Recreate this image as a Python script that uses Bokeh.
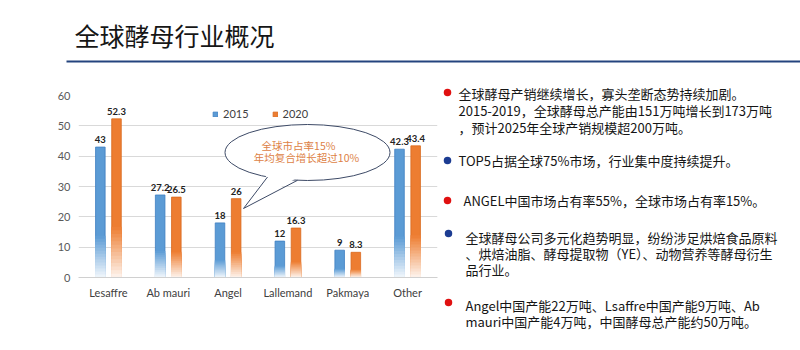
from bokeh.plotting import figure
from bokeh.models import ColumnDataSource, Range1d, FactorRange, FixedTicker, Legend, LegendItem
from bokeh.transform import dodge
from bokeh.layouts import column, row
from bokeh.core.properties import value
from bokeh.embed import file_html
from bokeh.resources import INLINE

# ---------------- data ----------------
title_text = "全球酵母行业概况"
categories = ["Lesaffre", "Ab mauri", "Angel", "Lallemand", "Pakmaya", "Other"]
series_names = ["2015", "2020"]
values_2015 = [43, 27.2, 18, 12, 9, 42.3]
values_2020 = [52.3, 26.5, 26, 16.3, 8.3, 43.4]
y_ticks = [0, 10, 20, 30, 40, 50, 60]
callout_lines = ["全球市占率15%", "年均复合增长超过10%"]

bullet_1 = ["全球酵母产销继续增长，寡头垄断态势持续加剧。",
            "2015-2019，全球酵母总产能由151万吨增长到173万吨",
            "，预计2025年全球产销规模超200万吨。"]
bullet_2 = ["TOP5占据全球75%市场，行业集中度持续提升。"]
bullet_3 = ["ANGEL中国市场占有率55%，全球市场占有率15%。"]
bullet_4 = ["全球酵母公司多元化趋势明显，纷纷涉足烘焙食品原料",
            "、烘焙油脂、酵母提取物（YE）、动物营养等酵母衍生",
            "品行业。"]
bullet_5 = ["Angel中国产能22万吨、Lsaffre中国产能9万吨、Ab",
            "mauri中国产能4万吨，中国酵母总产能约50万吨。"]
bullets = [bullet_1, bullet_2, bullet_3, bullet_4, bullet_5]

# ---------------- styles / layout ----------------
BLUE = "#5b9bd5"
BLUE_EDGE = "#3f7fc2"
ORANGE = "#ed7d31"
ORANGE_EDGE = "#d96a1e"
RED_DOT = "#e01010"
NAVY_DOT = "#1c3c92"
CJK = "Noto Sans CJK SC"
LAT = "Lato"

TOP_H = 70
CH_W, CH_H = 440, 280
BORDER_L, BORDER_R, BORDER_T, BORDER_B = 78, 3, 25, 73
FRAME_W = CH_W - BORDER_L - BORDER_R
FRAME_H = CH_H - BORDER_T - BORDER_B
Y_MAX = 60
TX_W = 800 - CH_W


def blend(hex_color, t):
    """mix hex_color with white; t=0 -> color, t=1 -> white"""
    h = hex_color.lstrip("#")
    r, g, b = (int(h[i:i + 2], 16) for i in (0, 2, 4))
    r = round(r + (255 - r) * t)
    g = round(g + (255 - g) * t)
    b = round(b + (255 - b) * t)
    return "#%02x%02x%02x" % (r, g, b)


def fmt(v):
    return f"{v:g}"


# page pixel -> chart data units (for the callout annotation)
def ax(page_x):
    return (page_x - BORDER_L) * len(categories) / FRAME_W


def ay(page_y):
    return (TOP_H + BORDER_T + FRAME_H - page_y) * Y_MAX / FRAME_H


# ---------------- title figure ----------------
tfig = figure(width=800, height=TOP_H, x_range=Range1d(0, 800), y_range=Range1d(TOP_H, 0),
              output_backend="svg", toolbar_location=None, min_border=0,
              x_axis_location=None, y_axis_location=None)
tfig.grid.visible = False
tfig.outline_line_color = None
tfig.text(x=[74], y=[34], text=[title_text], text_font=value(CJK), text_font_size="25px",
          text_color="#161616", text_baseline="middle", text_align="left")
tfig.line(x=[66, 800], y=[61, 61], line_color="#24447e", line_width=2)

# ---------------- chart figure ----------------
p = figure(width=CH_W, height=CH_H, x_range=FactorRange(factors=categories, range_padding=0),
           y_range=Range1d(0, Y_MAX), output_backend="svg", toolbar_location=None,
           min_border_left=BORDER_L, min_border_right=BORDER_R,
           min_border_top=BORDER_T, min_border_bottom=BORDER_B)
p.outline_line_color = None
p.xgrid.grid_line_color = None
p.ygrid.ticker = FixedTicker(ticks=y_ticks)
p.ygrid.grid_line_color = "#d9d9d9"
p.yaxis.ticker = FixedTicker(ticks=y_ticks)
p.yaxis.axis_line_color = None
p.yaxis.major_tick_line_color = None
p.yaxis.minor_tick_line_color = None
p.yaxis.major_tick_out = 0
p.yaxis.major_label_standoff = 8
p.yaxis.major_label_text_font = LAT
p.yaxis.major_label_text_font_size = "11px"
p.yaxis.major_label_text_color = "#595959"
p.xaxis.axis_line_color = "#d0d0d0"
p.xaxis.major_tick_line_color = None
p.xaxis.major_tick_out = 0
p.xaxis.major_label_standoff = 8
p.xaxis.major_label_text_font = LAT
p.xaxis.major_label_text_font_size = "11px"
p.xaxis.major_label_text_color = "#404040"

OFF = 0.135
BW = 0.16
src = ColumnDataSource(dict(cat=categories, v15=values_2015, v20=values_2020,
                            l15=[fmt(v) for v in values_2015], l20=[fmt(v) for v in values_2020]))

r15 = p.vbar(x=dodge("cat", -OFF, range=p.x_range), top="v15", bottom=0, width=BW, source=src,
             fill_color=BLUE, line_color=BLUE_EDGE, line_width=0.8)
r20 = p.vbar(x=dodge("cat", OFF, range=p.x_range), top="v20", bottom=0, width=BW, source=src,
             fill_color=ORANGE, line_color=ORANGE_EDGE, line_width=0.8)

# bottom fade of each bar (Excel-like gradient fill)
N = 14
FADE = 0.32
for vals, base, off in ((values_2015, BLUE, -OFF), (values_2020, ORANGE, OFF)):
    cats, tops, cols = [], [], []
    for k in range(N):
        for c, v in zip(categories, vals):
            cats.append(c)
            tops.append(v * FADE * (1 - k / N))
            cols.append(blend(base, 0.92 * (k + 0.5) / N))
    fsrc = ColumnDataSource(dict(cat=cats, top=tops, col=cols))
    p.vbar(x=dodge("cat", off, range=p.x_range), top="top", bottom=0, width=BW + 0.012,
           source=fsrc, fill_color="col", line_color=None)

# data labels
for col, lab, off in (("v15", "l15", -OFF), ("v20", "l20", OFF)):
    p.text(x=dodge("cat", off, range=p.x_range), y=col, text=lab, source=src, y_offset=-4,
           text_align="center", text_baseline="bottom", text_font=value(LAT),
           text_font_size="9.5px", text_font_style="bold", text_color="#222222")

# legend
legend = Legend(items=[LegendItem(label=series_names[0], renderers=[r15]),
                       LegendItem(label=series_names[1], renderers=[r20])],
                orientation="horizontal", location=(134, 157), glyph_width=6, glyph_height=6,
                label_standoff=5, spacing=23, padding=0, margin=0, border_line_color=None,
                background_fill_alpha=0, label_text_font=LAT, label_text_font_size="11px",
                label_text_color="#404040", label_height=10)
p.add_layout(legend)

# callout bubble
CALL_LINE = "#3d4a66"
p.ellipse(x=ax(307), y=ay(152), width=165, height=56, width_units="screen", height_units="screen",
          fill_color="white", line_color=CALL_LINE, line_width=1)
tail_x = [ax(267), ax(243), ax(297)]
tail_y = [ay(176.5), ay(208), ay(179.8)]
p.patch(x=tail_x, y=[tail_y[0] + 0.9, tail_y[1], tail_y[2] + 0.9], fill_color="white", line_color=None)
p.line(x=tail_x, y=tail_y, line_color=CALL_LINE, line_width=1)
p.text(x=[ax(298), ax(306)], y=[ay(145), ay(157)], text=callout_lines, text_align="center",
       text_baseline="middle", text_font=value(CJK), text_font_size="10.5px", text_color="#dd7f45")

# ---------------- bullet text figure (page coords shifted by chart origin) ----------------
bfig = figure(width=TX_W, height=CH_H, x_range=Range1d(CH_W, 800), y_range=Range1d(TOP_H + CH_H, TOP_H),
              output_backend="svg", toolbar_location=None, min_border=0,
              x_axis_location=None, y_axis_location=None)
bfig.grid.visible = False
bfig.outline_line_color = None

dot_colors = [RED_DOT, NAVY_DOT, RED_DOT, NAVY_DOT, RED_DOT]
dot_page_y = [92, 160, 200, 233, 302]
text_page_x = [458, 458, 463, 465, 465]
first_page_y = [93, 160, 200, 237, 305]
gap = [17, 17, 17, 16, 16]

bfig.scatter(x=[447, 447, 447, 448, 448], y=dot_page_y, size=7.5, fill_color=dot_colors, line_color=None)
for lines, tx, fy, g in zip(bullets, text_page_x, first_page_y, gap):
    bfig.text(x=[tx] * len(lines), y=[fy + i * g for i in range(len(lines))], text=lines,
              text_font=value(CJK), text_font_size="13px", text_color="#151515",
              text_baseline="middle", text_align="left")

layout = column(tfig, row(column(p), column(bfig)))
open("out.html", "w").write(file_html(layout, INLINE))
